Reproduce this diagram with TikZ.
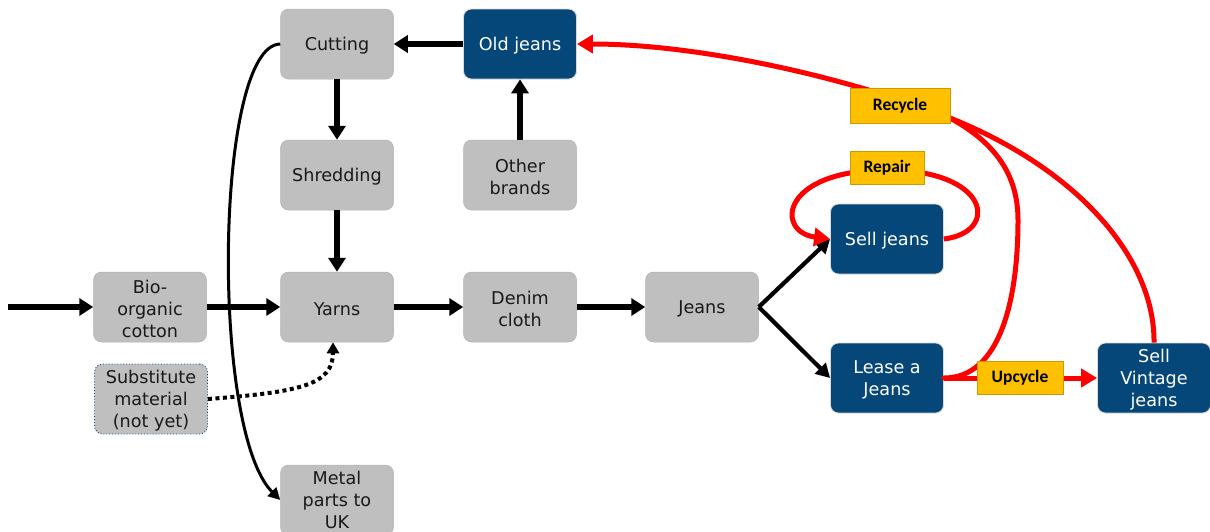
\documentclass[tikz,border=0pt]{standalone}
\usepackage{fontspec}
\setmainfont{DejaVu Sans}
\newfontfamily\lblfont{Carlito}
\usetikzlibrary{arrows.meta}
\definecolor{boxgray}{RGB}{191,191,191}
\definecolor{boxblue}{RGB}{6,71,122}
\definecolor{gold}{RGB}{255,192,0}
\definecolor{ared}{RGB}{255,0,0}
\begin{document}
\begin{tikzpicture}[x=1pt,y=-1pt,
  box/.style={rounded corners=8pt, minimum width=113pt, minimum height=70pt, align=center, inner sep=0pt, font=\fontsize{17.6}{22}\selectfont, execute at begin node={\rule{0pt}{17.5pt}}},
  two/.style={execute at begin node={\rule{0pt}{39.5pt}}},
  three/.style={execute at begin node={\rule{0pt}{61.5pt}}},
  graybox/.style={box, fill=boxgray, draw=black!30, line width=0.5pt, text=black!90},
  bluebox/.style={box, fill=boxblue, draw=black!15, line width=0.8pt, text=white},
  subbox/.style={box, fill=boxgray, draw=boxblue, line width=0.9pt, dotted, text=black!90},
  lbl/.style={fill=gold, draw=gold!80!black, line width=0.4pt, inner sep=0pt, font=\lblfont\bfseries\fontsize{17.5}{20}\selectfont},
  flow/.style={draw=black, line width=5.5pt, -{Triangle[length=14pt,width=17pt]}},
  thinflow/.style={draw=black, line width=4.2pt, -{Triangle[length=14pt,width=15pt]}},
  curveflow/.style={draw=black, line width=3pt, -{Triangle[length=12pt,width=12pt]}},
  dotflow/.style={draw=black, line width=4pt, dash pattern=on 4pt off 3.5pt, -{Triangle[length=11pt,width=12pt]}},
  redflow/.style={draw=ared, line width=5pt, -{Triangle[length=16pt,width=18pt]}},
  redline/.style={draw=ared, line width=5pt, line cap=round},
]
\useasboundingbox (0,0) rectangle (1210,531);

% nodes
\node[graybox] (cut) at (337,44) {Cutting};
\node[bluebox] (old) at (520,44) {Old jeans};
\node[graybox] (shred) at (337,175) {Shredding};
\node[graybox, two] (other) at (520,175) {Other\\brands};
\node[graybox, three] (bio) at (150,307) {Bio-\\organic\\cotton};
\node[graybox] (yarns) at (337,307) {Yarns};
\node[graybox, two] (denim) at (520,307) {Denim\\cloth};
\node[graybox] (jeans) at (702,307) {Jeans};
\node[bluebox] (sell) at (887,239) {Sell jeans};
\node[bluebox, two] (lease) at (887,378) {Lease a\\Jeans};
\node[bluebox, three] (vint) at (1154,378) {Sell\\Vintage\\jeans};
\node[subbox, three] (sub) at (151,399) {Substitute\\material\\(not yet)};
\node[graybox] (metal) at (337,500) {Metal\\parts to\\UK};

\coordinate (in) at (8,307);

% black connectors
\draw[flow] (in) -- (bio.west);
\draw[flow] (bio.east) -- (yarns.west);
\draw[flow] (yarns.east) -- (denim.west);
\draw[flow] (denim.east) -- (jeans.west);
\draw[flow] (old.west) -- (cut.east);
\draw[flow] (cut.south) -- (shred.north);
\draw[flow] (shred.south) -- (yarns.north);
\draw[flow] (other.north) -- (old.south);
\draw[thinflow] (jeans.east) -- (sell.west);
\draw[thinflow] (jeans.east) -- (lease.west);
\draw[curveflow] (cut.west) .. controls (215,45) and (210,430) .. (metal.west);
\draw[dotflow] (sub.east) .. controls (300,392) and (333,385) .. ([xshift=-4pt]yarns.south);

% red connectors
\draw[redflow] (vint.north) .. controls (1155,260) and (1080,170) .. (950,118) .. controls (850,78) and (700,44) .. (old.east);
\draw[redline] (lease.east) .. controls (1000,378) and (1018,300) .. (1018,220) .. controls (1018,170) and (990,140) .. (950,118);
\draw[redflow] (lease.east) -- (vint.west);
\draw[redflow] (sell.east) .. controls (1000,232) and (990,170) .. (887,170) .. controls (780,170) and (775,232) .. (sell.west);

% labels
\node[lbl, minimum width=100pt, minimum height=35pt] (recycle) at (900,105.5) {Recycle};
\node[lbl, minimum width=74pt, minimum height=33pt] (repair) at (887,167.5) {Repair};
\node[lbl, minimum width=86pt, minimum height=33pt] (upcycle) at (1020,377.5) {Upcycle};
\end{tikzpicture}
\end{document}
